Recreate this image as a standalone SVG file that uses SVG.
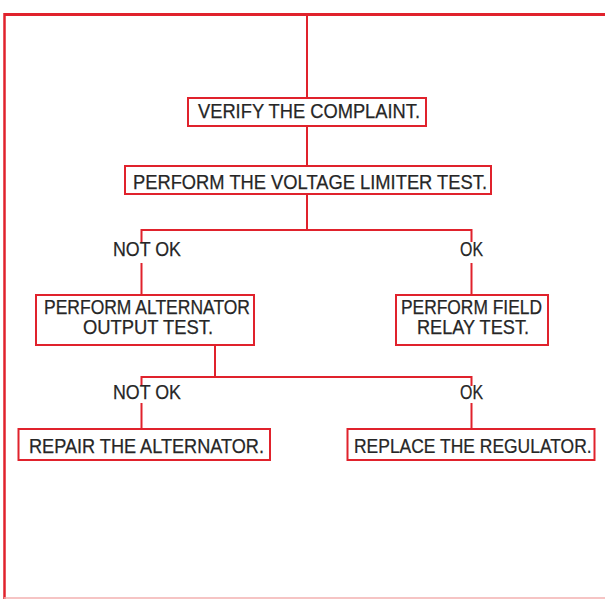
<svg xmlns="http://www.w3.org/2000/svg" width="605" height="599" viewBox="0 0 605 599">
<style>
.box{fill:#fff;stroke:#e0222c;stroke-width:2}
.ln{stroke:#e0222c;stroke-width:2;fill:none}
.t{font-family:"Liberation Sans",Arial,sans-serif;font-size:21px;fill:#262626;stroke:#262626;stroke-width:0.25}
.t2{font-size:20px}
</style>
<rect width="605" height="599" fill="#fff"/>
<g id="frame">
<line x1="4" y1="14.5" x2="605" y2="14.5" stroke="#e0222c" stroke-width="3"/>
<line x1="4.5" y1="13" x2="4.5" y2="599" stroke="#e0222c" stroke-width="2.5"/>
<line x1="4" y1="598" x2="605" y2="598" stroke="#f3b0b0" stroke-width="1.5"/>
</g>
<g id="connectors">
<line class="ln" x1="307" y1="15" x2="307" y2="98"/>
<line class="ln" x1="307" y1="126" x2="307" y2="166"/>
<path class="ln" d="M307 194V230M141.5 242V230H471.5V242"/>
<line class="ln" x1="141.5" y1="263" x2="141.5" y2="295"/>
<line class="ln" x1="471.5" y1="263" x2="471.5" y2="295"/>
<path class="ln" d="M215 345V377M141.5 386V377H471.5V386"/>
<line class="ln" x1="141.5" y1="403" x2="141.5" y2="429"/>
<line class="ln" x1="471.5" y1="403" x2="471.5" y2="429"/>
</g>
<g id="labels">
<text class="t" x="113" y="255.5" textLength="68" lengthAdjust="spacingAndGlyphs">NOT OK</text>
<text class="t" x="460" y="255.5" textLength="23" lengthAdjust="spacingAndGlyphs">OK</text>
<text class="t" x="113" y="398.5" textLength="68" lengthAdjust="spacingAndGlyphs">NOT OK</text>
<text class="t" x="460" y="398.5" textLength="23" lengthAdjust="spacingAndGlyphs">OK</text>
</g>
<g id="verify">
<rect class="box" x="188" y="98" width="238" height="28"/>
<text class="t" x="198" y="117.5" textLength="222" lengthAdjust="spacingAndGlyphs">VERIFY THE COMPLAINT.</text>
</g>
<g id="limiter">
<rect class="box" x="125" y="166" width="366" height="28"/>
<text class="t" x="133" y="188.5" textLength="354" lengthAdjust="spacingAndGlyphs">PERFORM THE VOLTAGE LIMITER TEST.</text>
</g>
<g id="alternator-test">
<rect class="box" x="36" y="295" width="218" height="50"/>
<text class="t t2" x="44" y="313.5" textLength="206" lengthAdjust="spacingAndGlyphs">PERFORM ALTERNATOR</text>
<text class="t t2" x="83" y="334" textLength="130" lengthAdjust="spacingAndGlyphs">OUTPUT TEST.</text>
</g>
<g id="field-relay">
<rect class="box" x="396" y="295" width="152" height="50"/>
<text class="t t2" x="401" y="313.5" textLength="141" lengthAdjust="spacingAndGlyphs">PERFORM FIELD</text>
<text class="t t2" x="417" y="334" textLength="112" lengthAdjust="spacingAndGlyphs">RELAY TEST.</text>
</g>
<g id="repair">
<rect class="box" x="18.5" y="429" width="251.5" height="31"/>
<text class="t" x="29" y="452.5" textLength="235" lengthAdjust="spacingAndGlyphs">REPAIR THE ALTERNATOR.</text>
</g>
<g id="replace">
<rect class="box" x="347.5" y="429" width="247" height="31"/>
<text class="t" transform="translate(354 452.5) scale(0.832 1)" x="0" y="0">REPLACE THE REGULATOR.</text>
</g>
</svg>
